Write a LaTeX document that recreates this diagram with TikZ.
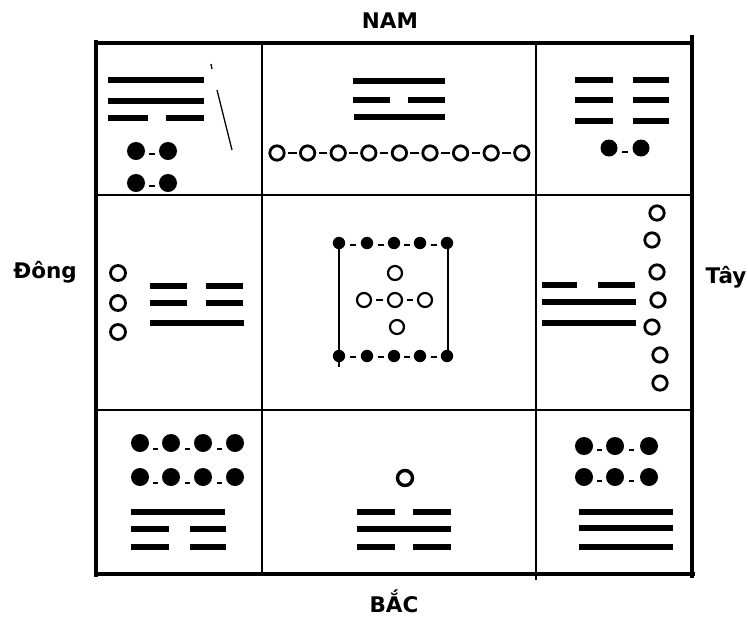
\documentclass[tikz,border=0pt]{standalone}
\usepackage{fontspec}
\setmainfont{DejaVu Sans}
\begin{document}
\begin{tikzpicture}[x=1pt,y=-1pt,
  outer/.style={line width=3.2pt},
  inner/.style={line width=1.1pt},
  hline/.style={line width=1.9pt},
  bar/.style={line width=5.5pt},
  fdot/.style={fill=black},
  ring/.style={draw=black,line width=2.8pt},
  link/.style={line width=2.2pt},
  thin/.style={line width=1.3pt},
  lbl/.style={font=\bfseries\fontsize{21.5}{22}\selectfont}]
\useasboundingbox[fill=white] (0,0) rectangle (748,622);

% ---------- grid ----------
\draw[outer] (96,40) -- (96,577);
\draw[outer] (95,43) -- (690,43);
\draw[outer] (692,35) -- (692,578);
\draw[outer] (96,574) -- (695,574);
\draw[inner] (262,43) -- (262,574);
\draw[inner] (536,43) -- (536,580);
\draw[hline] (96,195) -- (692,195);
\draw[hline] (96,410) -- (692,410);

% ---------- labels ----------
\node[lbl] (nam) at (390,21) {NAM};
\node[lbl] (bac) at (394,601) {BẮC};
\node[lbl] (dong) at (45,272) {Đông};
\node[lbl] (tay) at (726,277) {Tây};

% ---------- top-left cell ----------
\draw[bar] (108,80) -- (204,80);
\draw[bar] (108,101) -- (204,101);
\draw[bar] (108,118) -- (148,118) (166,118) -- (204,118);
\foreach \y in {151,183}{
  \fill[fdot] (136,\y) circle (9);
  \fill[fdot] (168,\y) circle (9);
  \draw[link] (149,\y+3) -- (155,\y+3);
}
\draw[thin] (211,64) -- (212,69);
\draw[thin] (217,90) -- (232,150);

% ---------- top-middle cell ----------
\draw[bar] (353,81) -- (445,81);
\draw[bar] (353,100) -- (390,100) (408,100) -- (445,100);
\draw[bar] (354,117) -- (445,117);
\foreach \i in {0,...,8}{
  \draw[ring] (277+30.6*\i,153) circle (7.2);
}
\foreach \i in {0,...,7}{
  \draw[link] (277+30.6*\i+11,153) -- (277+30.6*\i+19.6,153);
}

% ---------- top-right cell ----------
\foreach \y in {80,100,121}{
  \draw[bar] (575,\y) -- (613,\y) (633,\y) -- (669,\y);
}
\fill[fdot] (609,148) circle (8.5);
\fill[fdot] (641,148) circle (8.5);
\draw[link] (622,152) -- (628,152);

% ---------- middle-left cell ----------
\foreach \y in {273,303,332}{
  \draw[ring] (118,\y) circle (7.5);
}
\draw[bar] (150,286) -- (187,286) (206,286) -- (243,286);
\draw[bar] (150,303) -- (187,303) (206,303) -- (243,303);
\draw[bar] (150,323) -- (244,323);

% ---------- centre cell ----------
\draw[thin] (339,243) -- (339,367);
\draw[thin] (448,243) -- (448,356);
\foreach \x in {339,367,394,420,447}{
  \fill[fdot] (\x,243) circle (6.2);
  \fill[fdot] (\x,356) circle (6.2);
}
\foreach \a/\b in {339/367,367/394,394/420,420/447}{
  \draw[link] ({(\a+\b)/2-3},245) -- ({(\a+\b)/2+3},245);
  \draw[link] ({(\a+\b)/2-3},357) -- ({(\a+\b)/2+3},357);
}
\draw[ring,line width=2.2pt] (395,273) circle (7);
\draw[ring,line width=2.2pt] (364,300) circle (7);
\draw[ring,line width=2.2pt] (395,300) circle (7);
\draw[ring,line width=2.2pt] (425,300) circle (7);
\draw[ring,line width=2.2pt] (397,327) circle (7);
\draw[link] (376,300) -- (383,300);
\draw[link] (407,300) -- (413,300);

% ---------- middle-right cell ----------
\foreach \x/\y in {657/213,652/240,657/272,658/300,652/327,660/355,660/383}{
  \draw[ring] (\x,\y) circle (7.2);
}
\draw[bar] (542,285) -- (577,285) (598,285) -- (635,285);
\draw[bar] (542,302) -- (636,302);
\draw[bar] (542,323) -- (636,323);

% ---------- bottom-left cell ----------
\foreach \y in {443,477}{
  \foreach \x in {140,171,203,235}{
    \fill[fdot] (\x,\y) circle (9);
  }
  \foreach \x in {155,187,219}{
    \draw[link] (\x-2.5,\y+6) -- (\x+2.5,\y+6);
  }
}
\draw[bar] (131,512) -- (225,512);
\draw[bar] (131,529) -- (169,529) (190,529) -- (226,529);
\draw[bar] (131,547) -- (169,547) (190,547) -- (226,547);

% ---------- bottom-middle cell ----------
\draw[ring,line width=3.4pt] (405,478) circle (7.5);
\draw[bar] (357,512) -- (395,512) (413,512) -- (451,512);
\draw[bar] (357,529) -- (451,529);
\draw[bar] (357,547) -- (395,547) (413,547) -- (451,547);

% ---------- bottom-right cell ----------
\foreach \y in {446,477}{
  \foreach \x in {584,615,649}{
    \fill[fdot] (\x,\y) circle (9);
  }
  \draw[link] (597,\y+4) -- (602,\y+4);
  \draw[link] (629,\y+4) -- (634,\y+4);
}
\draw[bar] (579,512) -- (673,512);
\draw[bar] (579,528) -- (673,528);
\draw[bar] (579,547) -- (673,547);
\end{tikzpicture}
\end{document}
